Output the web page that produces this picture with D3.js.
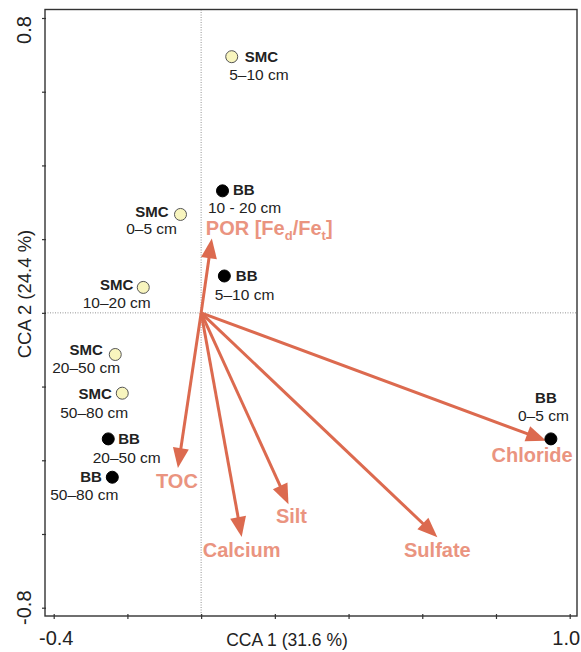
<!DOCTYPE html>
<html>
<head>
<meta charset="utf-8">
<script src="https://cdn.jsdelivr.net/npm/d3@7"></script>
<style>
  body { margin: 0; background: #fff; }
  svg text { font-family: "Liberation Sans", Arial, sans-serif; }
</style>
</head>
<body>
<div id="chart"></div>
<script>
// CCA biplot - site scores + environmental vectors

// site scores (CCA 1, CCA 2)
var siteNames = ['SMC', 'BB', 'SMC', 'BB', 'SMC', 'SMC', 'SMC', 'BB', 'BB', 'BB'];
var siteDepths = ['5\u201310 cm', '10 - 20 cm', '0\u20135 cm', '5\u201310 cm', '10\u201320 cm',
                  '20\u201350 cm', '50\u201380 cm', '20\u201350 cm', '50\u201380 cm', '0\u20135 cm'];
var siteX = [0.083, 0.058, -0.056, 0.063, -0.157, -0.233, -0.214, -0.252, -0.241, 0.949];
var siteY = [0.695, 0.331, 0.267, 0.100, 0.069, -0.113, -0.218, -0.342, -0.446, -0.342];

// environmental vectors (arrow tips)
var envNames = ['POR', 'TOC', 'Calcium', 'Silt', 'Sulfate', 'Chloride'];
var envX = [0.029, -0.063, 0.110, 0.237, 0.641, 0.936];
var envY = [0.202, -0.421, -0.608, -0.519, -0.609, -0.347];

// axes
var xTicks = [-0.4, -0.2, 0, 0.2, 0.4, 0.6, 0.8, 1.0];
var yTicks = [-0.8, -0.6, -0.4, -0.2, 0, 0.2, 0.4, 0.6, 0.8];
var xLabelled = ['-0.4', '1.0'];
var yLabelled = ['-0.8', '0.8'];
var xTitle = 'CCA 1 (31.6 %)';
var yTitle = 'CCA 2 (24.4 %)';

var width = 581, height = 652;
var frame = { left: 45, right: 577, top: 9.5, bottom: 616 };

var svg = d3.select('#chart').append('svg')
    .attr('width', width)
    .attr('height', height);

var x = d3.scaleLinear().domain([-0.4, 1.0]).range([53.7, 569.7]);
var y = d3.scaleLinear().domain([-0.8, 0.8]).range([607.7, 18]);

var fmt = d3.format('.1f');

// zero lines
svg.append('line')
    .attr('x1', x(0)).attr('x2', x(0))
    .attr('y1', frame.top).attr('y2', frame.bottom)
    .attr('stroke', '#777').attr('stroke-width', 0.8)
    .attr('stroke-dasharray', '1,1.5');
svg.append('line')
    .attr('x1', frame.left).attr('x2', frame.right)
    .attr('y1', y(0)).attr('y2', y(0))
    .attr('stroke', '#777').attr('stroke-width', 0.8)
    .attr('stroke-dasharray', '1,1.5');

// frame
svg.append('rect')
    .attr('x', frame.left).attr('y', frame.top)
    .attr('width', frame.right - frame.left)
    .attr('height', frame.bottom - frame.top)
    .attr('fill', 'none')
    .attr('stroke', '#333')
    .attr('stroke-width', 1.4);

// bottom axis
var xAxis = d3.axisBottom(x)
    .tickValues(xTicks)
    .tickSizeInner(4).tickSizeOuter(0)
    .tickPadding(12)
    .tickFormat(function(d) {
        var s = d < 0 ? '-' + fmt(-d) : fmt(d);
        return xLabelled.indexOf(s) >= 0 ? s : '';
    });
var gx = svg.append('g')
    .attr('transform', 'translate(0,' + (frame.bottom - 1) + ')')
    .call(xAxis);
gx.select('.domain').remove();
gx.selectAll('line').attr('stroke', '#333').attr('stroke-width', 1.2).attr('y1', -1);
gx.selectAll('text')
    .attr('font-size', 20)
    .attr('font-family', '"Liberation Sans", Arial, sans-serif')
    .attr('fill', '#222')
    .attr('dx', function(d) { return d === 1.0 ? -4 : 2; });

// left axis
var yAxis = d3.axisLeft(y)
    .tickValues(yTicks)
    .tickSizeInner(4).tickSizeOuter(0)
    .tickFormat('');
var gy = svg.append('g')
    .attr('transform', 'translate(' + (frame.left + 1) + ',0)')
    .call(yAxis);
gy.select('.domain').remove();
gy.selectAll('line').attr('stroke', '#333').attr('stroke-width', 1.2);

yTicks.forEach(function(d) {
    var s = d < 0 ? '-' + fmt(-d) : fmt(d);
    if (yLabelled.indexOf(s) < 0) return;
    var cy = d > 0 ? y(d) + 12 : y(d);
    svg.append('text')
        .attr('transform', 'translate(31,' + cy + ') rotate(-90)')
        .attr('text-anchor', 'middle')
        .attr('font-size', 20)
        .attr('fill', '#222')
        .text(s);
});

// axis titles
svg.append('text')
    .attr('x', 287).attr('y', 646)
    .attr('text-anchor', 'middle')
    .attr('font-size', 17.5)
    .attr('fill', '#222')
    .text(xTitle);
svg.append('text')
    .attr('transform', 'translate(31,294) rotate(-90)')
    .attr('text-anchor', 'middle')
    .attr('font-size', 18.5)
    .attr('fill', '#222')
    .text(yTitle);

// vectors
var arrowCol = '#DC6A4F';
var envTextCol = '#EA9480';
var ox = x(0), oy = y(0);
var headLen = 20, headW = 8;

var env = envNames.map(function(n, i) { return { name: n, x: envX[i], y: envY[i] }; });

var gArrows = svg.append('g');
env.forEach(function(d) {
    var tx = x(d.x), ty = y(d.y);
    var ang = Math.atan2(ty - oy, tx - ox);
    var bx = tx - headLen * Math.cos(ang), by = ty - headLen * Math.sin(ang);
    gArrows.append('line')
        .attr('x1', ox).attr('y1', oy)
        .attr('x2', tx - (headLen - 4) * Math.cos(ang))
        .attr('y2', ty - (headLen - 4) * Math.sin(ang))
        .attr('stroke', arrowCol)
        .attr('stroke-width', 3);
    var px = -Math.sin(ang), py = Math.cos(ang);
    gArrows.append('path')
        .attr('d', 'M' + tx + ',' + ty +
            'L' + (bx + headW * px) + ',' + (by + headW * py) +
            'L' + (bx - headW * px) + ',' + (by - headW * py) + 'Z')
        .attr('fill', arrowCol);
});

// vector label placement (px offsets from arrow tip)
var envLabelPos = {
    POR:      { dx: -6,  dy: -3,  anchor: 'start' },
    TOC:      { dx: -1,  dy: 20,  anchor: 'middle' },
    Calcium:  { dx: 0,   dy: 20,  anchor: 'middle' },
    Silt:     { dx: 3,   dy: 19,  anchor: 'middle' },
    Sulfate:  { dx: 0,   dy: 19.5, anchor: 'middle' },
    Chloride: { dx: -14, dy: 21,  anchor: 'middle' }
};

env.forEach(function(d) {
    var p = envLabelPos[d.name];
    var t = svg.append('text')
        .attr('x', x(d.x) + p.dx)
        .attr('y', y(d.y) + p.dy)
        .attr('text-anchor', p.anchor)
        .attr('font-size', 20)
        .attr('font-weight', 'bold')
        .attr('fill', envTextCol);
    if (d.name === 'POR') {
        t.append('tspan').text('POR [Fe');
        t.append('tspan').attr('font-size', 13).attr('dy', 5).text('d');
        t.append('tspan').attr('dy', -5).text('/Fe');
        t.append('tspan').attr('font-size', 13).attr('dy', 5).text('t');
        t.append('tspan').attr('dy', -5).text(']');
    } else {
        t.text(d.name);
    }
});

// site points
var sites = siteNames.map(function(n, i) {
    return { name: n, depth: siteDepths[i], x: siteX[i], y: siteY[i] };
});

svg.append('g').selectAll('circle')
    .data(sites)
    .enter()
    .append('circle')
    .attr('cx', function(d) { return x(d.x); })
    .attr('cy', function(d) { return y(d.y); })
    .attr('r', 6)
    .attr('fill', function(d) { return d.name === 'SMC' ? '#F8F5BE' : '#000'; })
    .attr('stroke', function(d) { return d.name === 'SMC' ? '#555' : '#000'; })
    .attr('stroke-width', 1);

// label placement per site: [name dx, dy, anchor], [depth dx, dy, anchor]
var siteLabelPos = [
    [[13, 5, 'start'],    [-2.5, 23.5, 'start']],
    [[10.5, 4.5, 'start'], [-14.5, 22.5, 'start']],
    [[-12, 2.5, 'end'],   [-3.5, 20, 'end']],
    [[11.5, 5.5, 'start'], [-9.5, 24, 'start']],
    [[-10, 3, 'end'],     [7.5, 21, 'end']],
    [[-12.5, 1, 'end'],   [5, 18.5, 'end']],
    [[-10.5, 5.5, 'end'], [6, 24.5, 'end']],
    [[10, 5.5, 'start'],  [52.5, 24, 'end']],
    [[-10.5, 5, 'end'],   [6, 22.5, 'end']],
    [[-5, -35.5, 'middle'], [-7.5, -17.5, 'middle']]
];

var gLab = svg.append('g');
sites.forEach(function(d, i) {
    var cx = x(d.x), cy = y(d.y);
    var pn = siteLabelPos[i][0], pd = siteLabelPos[i][1];
    gLab.append('text')
        .attr('x', cx + pn[0]).attr('y', cy + pn[1])
        .attr('text-anchor', pn[2])
        .attr('font-size', 15)
        .attr('font-weight', 'bold')
        .attr('fill', '#222')
        .text(d.name);
    gLab.append('text')
        .attr('x', cx + pd[0]).attr('y', cy + pd[1])
        .attr('text-anchor', pd[2])
        .attr('font-size', 15.5)
        .attr('fill', '#222')
        .text(d.depth);
});
</script>
</body>
</html>
